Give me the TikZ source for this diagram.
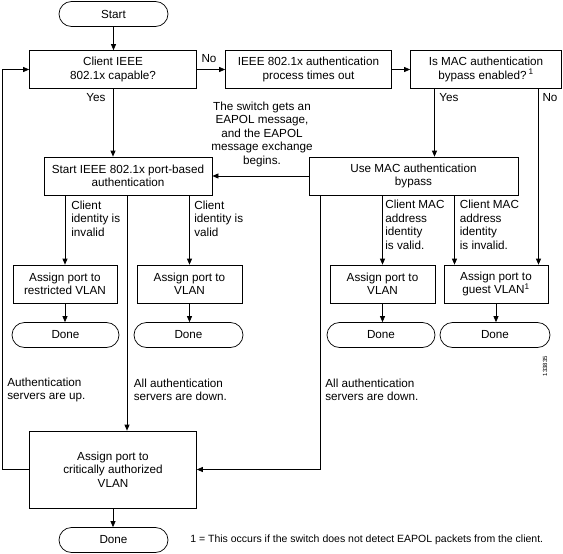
\documentclass[tikz,border=0pt]{standalone}
\usepackage{fontspec}
\setmainfont{Liberation Sans}
\usetikzlibrary{arrows.meta}

\begin{document}
\begin{tikzpicture}[x=1pt,y=-1pt,line width=0.7pt,
  every node/.style={font=\fontsize{11.7}{13.5}\selectfont},
  box/.style={draw,align=center,inner sep=0pt},
  term/.style={draw,rounded corners=12.5pt,minimum width=109pt,minimum height=25pt,inner sep=0pt},
  note/.style={align=left,anchor=west,inner sep=0pt},
  arr/.style={-{Triangle[length=6pt,width=5pt]}}]
\useasboundingbox (0,0) rectangle (563,554);

\node[term] (start) at (113.5,14) {Start};
\node[box,minimum width=167pt,minimum height=38pt] (client) at (113,69.5) {Client IEEE\\802.1x capable?};
\node[box,minimum width=166pt,minimum height=38pt] (timeout) at (308.5,69.5) {IEEE 802.1x authentication\\process times out};
\node[box,minimum width=151pt,minimum height=38pt] (macq) at (486,69.5) {Is MAC authentication\\bypass enabled?\,\textsuperscript{1}};

\node[box,minimum width=168pt,minimum height=38pt] (startdot) at (128,176) {Start IEEE 802.1x port-based\\authentication};
\node[box,minimum width=209pt,minimum height=38pt] (usemab) at (413.5,176) {Use MAC authentication\\bypass};

\node[box,minimum width=104pt,minimum height=38pt] (restricted) at (65,284) {Assign port to\\restricted VLAN};
\node[box,minimum width=105pt,minimum height=38pt] (vlanleft) at (189.5,284) {Assign port to\\VLAN};
\node[box,minimum width=105pt,minimum height=38pt] (vlanright) at (382.5,284) {Assign port to\\VLAN};
\node[box,minimum width=104pt,minimum height=38pt] (guest) at (496,284) {Assign port to\\guest VLAN\textsuperscript{1}};

\node[term,minimum width=107pt] (doneA) at (65.5,335) {Done};
\node[term,minimum width=109pt] (doneB) at (188.5,335) {Done};
\node[term,minimum width=108pt] (doneC) at (381,335) {Done};
\node[term,minimum width=110pt] (doneD) at (495,335) {Done};

\node[box,minimum width=167pt,minimum height=77pt] (critical) at (113,469.5) {Assign port to\\critically authorized\\VLAN};
\node[term] (doneE) at (113.5,540) {Done};

\coordinate (yesx) at ([xshift=-51.5pt]macq.south);
\coordinate (nox) at ([xshift=52.5pt]macq.south);
\coordinate (critin) at ([xshift=14pt]critical.north);
\coordinate (guestin) at ([xshift=-41.5pt]guest.north);
\coordinate (downright) at ([xshift=-93.5pt]usemab.south);
\coordinate (back) at (2.5,469.5);

\draw[arr] (start.south) -- (start.south |- client.north);
\draw[arr] (client) -- (timeout);
\draw[arr] (timeout) -- (macq);
\draw[arr] (client.south) -- (client.south |- startdot.north);
\draw[arr] (yesx) -- (yesx |- usemab.north);
\draw[arr] (nox) -- (nox |- guest.north);
\draw[arr] (usemab) -- (startdot);
\draw[arr] (restricted.north |- startdot.south) -- (restricted.north);
\draw[arr] (vlanleft.north |- startdot.south) -- (vlanleft.north);
\draw[arr] (critin |- startdot.south) -- (critin);
\draw[arr] (vlanright.north |- usemab.south) -- (vlanright.north);
\draw[arr] (guestin |- usemab.south) -- (guestin);
\draw[arr] (downright) |- (critical.east);
\draw[arr] (restricted.south) -- (restricted.south |- doneA.north);
\draw[arr] (vlanleft.south) -- (vlanleft.south |- doneB.north);
\draw[arr] (vlanright.south) -- (vlanright.south |- doneC.north);
\draw[arr] (guest.south) -- (guest.south |- doneD.north);
\draw[arr] (critical.south) -- (critical.south |- doneE.north);
\draw[arr] (critical.west) -- (back) |- (client.west);

\node (nolabel) at (209,59) {No};
\node (yesleft) at (96,98) {Yes};
\node (yesright) at (449,98) {Yes};
\node (noright) at (550,98) {No};
\node[align=center] (eapol) at (262,134) {The switch gets an\\EAPOL message,\\and the EAPOL\\message exchange\\begins.};
\node[note] (invalid) at (71,218.5) {Client\\identity is\\invalid};
\node[note] (valid) at (194,218.5) {Client\\identity is\\valid};
\node[note] (macvalid) at (385,225) {Client MAC\\address\\identity\\is valid.};
\node[note] (macinvalid) at (459.5,225) {Client MAC\\address\\identity\\is invalid.};
\node[note] (up) at (7,390) {Authentication\\servers are up.};
\node[note] (downA) at (133.5,390) {All authentication\\servers are down.};
\node[note] (downB) at (325,390) {All authentication\\servers are down.};
\node[note,font=\fontsize{10.5}{12}\selectfont] (foot) at (190,540) {1 = This occurs if the switch does not detect EAPOL packets from the client.};
\node[rotate=90,font=\fontsize{6}{7}\selectfont] (fignum) at (545,366) {133835};
\end{tikzpicture}
\end{document}
